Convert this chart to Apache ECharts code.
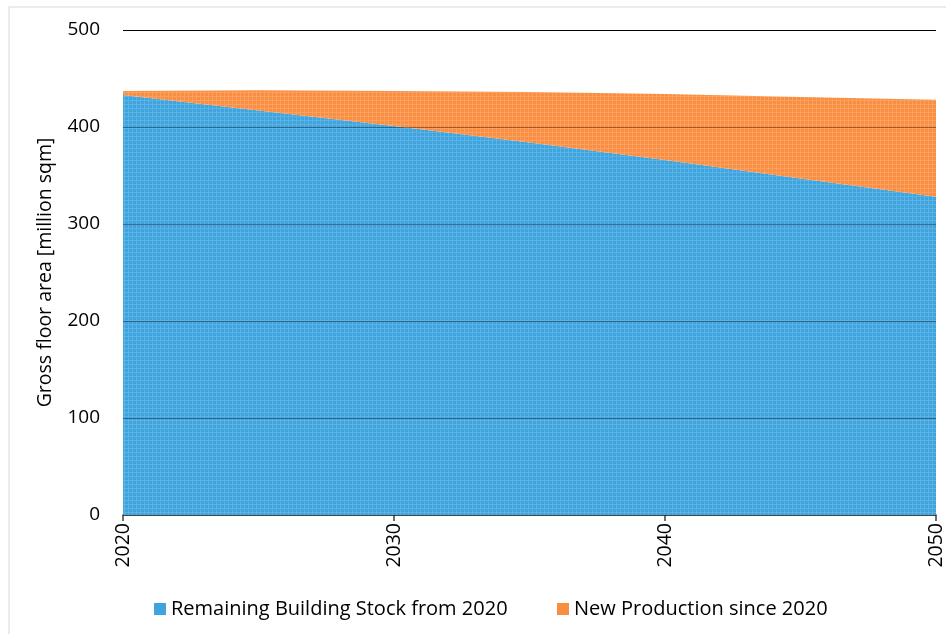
<!DOCTYPE html>
<html><head><meta charset="utf-8">
<script src="https://cdn.jsdelivr.net/npm/echarts@6/dist/echarts.min.js"></script>
<style>html,body{margin:0;padding:0;background:#fff}#c{width:946px;height:634px}</style>
</head><body><div id="c"></div>
<script>
const years = ['2020', '2025', '2030', '2035', '2040', '2045', '2050'];
const remaining = [433, 417, 401, 384, 366, 347, 328];
const newProduction = [4, 21, 36, 52, 68, 84, 100];
const yTicks = [0, 100, 200, 300, 400, 500];

function pattern(base, light) {
  const c = document.createElement('canvas');
  c.width = 4; c.height = 4;
  const g = c.getContext('2d');
  g.fillStyle = base; g.fillRect(0, 0, 4, 4);
  g.fillStyle = light; g.fillRect(0, 0, 4, 1); g.fillRect(0, 0, 1, 4);
  return { image: c, repeat: 'repeat' };
}
const blue = pattern('#3fa4dd', '#5ab3e4');
const orange = pattern('#f98e41', '#fba061');
const font = '"Open Sans", "Liberation Sans", sans-serif';

const chart = echarts.init(document.getElementById('c'));
chart.setOption({
  animation: false,
  graphic: [{ type: 'rect', shape: { x: 9, y: 7, width: 940, height: 640 }, style: { fill: 'none', stroke: '#d9d9d9', lineWidth: 1 }, silent: true }],
  grid: { left: 123, right: 9, top: 30, bottom: 119 },
  legend: [
    { left: 149, top: 594, icon: 'rect', itemWidth: 12, itemHeight: 12, itemGap: 5, data: [{ name: 'Remaining Building Stock from 2020', itemStyle: { color: '#3fa4dd' } }], textStyle: { fontFamily: font, fontSize: 20, color: '#000' } },
    { left: 552, top: 594, icon: 'rect', itemWidth: 12, itemHeight: 12, itemGap: 5, data: [{ name: 'New Production since 2020', itemStyle: { color: '#f98e41' } }], textStyle: { fontFamily: font, fontSize: 20, color: '#000' } }
  ],
  xAxis: {
    type: 'category', data: years, boundaryGap: false,
    axisLine: { lineStyle: { color: '#404040', width: 1.5 } },
    axisTick: { show: true, length: 6, interval: 1, lineStyle: { color: '#404040', width: 1.5 } },
    axisLabel: { rotate: 90, interval: 1, fontFamily: font, fontSize: 19.5, color: '#000', margin: 8 },
    splitLine: { show: false }
  },
  yAxis: {
    type: 'value', min: 0, max: 500, interval: 100, z: 5,
    name: 'Gross floor area [million sqm]', nameLocation: 'middle', nameGap: 68,
    nameTextStyle: { fontFamily: font, fontSize: 19.5, color: '#000' },
    axisLine: { show: false }, axisTick: { show: false },
    axisLabel: { fontFamily: font, fontSize: 19, color: '#000', margin: 23, formatter: v => yTicks.includes(v) ? String(v) : '' },
    splitLine: { lineStyle: { color: 'rgba(0,0,0,0.38)', width: 1 } }
  },
  series: [
    { name: 'Remaining Building Stock from 2020', type: 'line', stack: 'a', symbol: 'none',
      data: remaining,
      lineStyle: { width: 0 }, itemStyle: { color: '#3fa4dd' }, areaStyle: { color: blue, opacity: 1 },
      markLine: { silent: true, symbol: 'none', label: { show: false }, lineStyle: { color: '#000', type: 'solid', width: 1.1 }, data: [{ yAxis: 500 }] }
    },
    { name: 'New Production since 2020', type: 'line', stack: 'a', symbol: 'none',
      data: newProduction,
      lineStyle: { width: 0 }, itemStyle: { color: '#f98e41' }, areaStyle: { color: orange, opacity: 1 } }
  ]
});
</script></body></html>
